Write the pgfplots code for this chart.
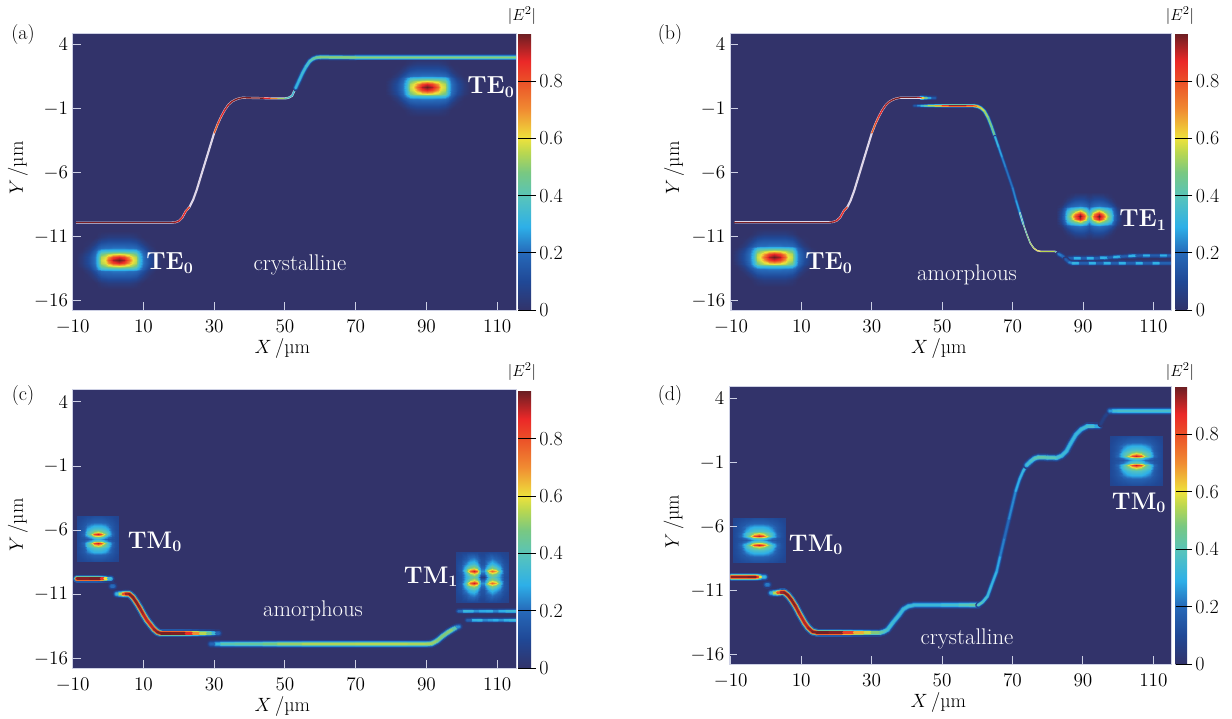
\documentclass[border=0pt]{standalone}
\usepackage{pgfplots}
\pgfplotsset{compat=1.18}
\usepackage{pgfplotstable}
\definecolor{bgc}{RGB}{50,51,106}
\definecolor{tickc}{RGB}{205,208,228}
\definecolor{lavc}{RGB}{222,214,232}
\pgfplotsset{
 colormap={ej}{
  rgb255(0cm)=(50,51,106)
  rgb255(10cm)=(32,72,150)
  rgb255(20cm)=(38,105,185)
  rgb255(29cm)=(45,175,232)
  rgb255(39cm)=(85,195,190)
  rgb255(48cm)=(120,200,130)
  rgb255(55cm)=(185,215,80)
  rgb255(60cm)=(238,226,60)
  rgb255(70cm)=(240,140,50)
  rgb255(80cm)=(235,80,40)
  rgb255(87cm)=(235,40,40)
  rgb255(96.8cm)=(105,30,35)
 },
 panel/.style={
  scale only axis, enlargelimits=false, axis on top,
  tick align=inside, xtick pos=lower, ytick pos=left,
  xtick={-10,10,30,50,70,90,110}, ytick={-16,-11,-6,-1,4},
  major tick length=6pt,
  tick style={color=tickc,line width=.7pt},
  axis line style={tickc,line width=.6pt},
  axis background/.style={fill=bgc},
  colormap name=ej, point meta min=0, point meta max=.968,
  tick label style={font=\fontsize{15}{16}\selectfont},
  xticklabel style={yshift=-4pt},
  label style={font=\fontsize{15}{16}\selectfont},
  xlabel={$X$\,/µm}, ylabel={$Y$\,/µm},
  xlabel style={at={(rel axis cs:.5,0)},anchor=center,yshift=-29pt,xshift=-9pt},
 },
 cb/.style n args={3}{
  colorbar,
  colorbar style={
   at={(parent axis.south east)},anchor=south west,xshift=#1,
   scale only axis,width=#2,height=#3,
   ytick={0,.2,.4,.6,.8},yticklabels={0,0.2,0.4,0.6,0.8},
   ytick pos=right,yticklabel pos=right,tick align=outside,
   major tick length=3.75pt,tick style={black,line width=.5pt},
   ymajorgrids,major grid style={black,line width=.5pt},
   axis on top,axis line style={draw=none},
   tick label style={font=\fontsize{15}{16}\selectfont},
   yticklabel style={xshift=-1pt},
  }},
 wg/.style={mesh,line width=#1,line cap=round,line join=round,no marks},
 ins/.style={surf,shader=interp,mesh/cols=#1,point meta=explicit,no marks},
}
\newcommand\glow[2]{%
 \addplot[wg=1.5pt*#2,point meta={\thisrow{m}*.16}] table[x=x,y=y]{#1};
 \addplot[wg=1.05pt*#2,point meta={\thisrow{m}*.45}] table[x=x,y=y]{#1};
 \addplot[wg=.75pt*#2,point meta={\thisrow{m}*.8}] table[x=x,y=y]{#1};
 \addplot[wg=.45pt*#2,point meta={\thisrow{m}}] table[x=x,y=y]{#1};
}
% table, cols, cx, cy, sx, sy : mode drawn from its upper right quadrant
\newcommand\modeq[6]{%
 \addplot[ins=#2] table[x expr={\thisrow{x}*#5+#3},y expr={\thisrow{y}*#6+#4},meta=m]{#1};
 \addplot[ins=#2] table[x expr={-\thisrow{x}*#5+#3},y expr={\thisrow{y}*#6+#4},meta=m]{#1};
 \addplot[ins=#2] table[x expr={\thisrow{x}*#5+#3},y expr={-\thisrow{y}*#6+#4},meta=m]{#1};
 \addplot[ins=#2] table[x expr={-\thisrow{x}*#5+#3},y expr={-\thisrow{y}*#6+#4},meta=m]{#1};
}
\newcommand\tx[4]{\node[text=#1,font=\fontsize{#2}{#2}\selectfont,inner sep=0pt] at ({#3}) {#4};}
\newcommand\at[2]{#1*.75pt,{(718-#2)*.75pt}}
% mode profiles
\pgfplotstableread{
x y m
0 0 .97
1.5 0 .92
3 0 .76
4 0 .6
5 0 .56
5.8 0 .36
6.8 0 .22
8.5 0 .12
10.5 0 .04
12 0 0
0 .25 .88
1.5 .25 .82
3 .25 .68
4 .25 .58
5 .25 .54
5.8 .25 .35
6.8 .25 .22
8.5 .25 .12
10.5 .25 .04
12 .25 0
0 .5 .6
1.5 .5 .58
3 .5 .55
4 .5 .5
5 .5 .45
5.8 .5 .32
6.8 .5 .2
8.5 .5 .1
10.5 .5 .03
12 .5 0
0 .72 .36
1.5 .72 .36
3 .72 .35
4 .72 .35
5 .72 .33
5.8 .72 .26
6.8 .72 .17
8.5 .72 .07
10.5 .72 .01
12 .72 0
0 .9 .22
1.5 .9 .22
3 .9 .21
4 .9 .21
5 .9 .2
5.8 .9 .17
6.8 .9 .12
8.5 .9 .04
10.5 .9 0
12 .9 0
0 1.3 .14
1.5 1.3 .14
3 1.3 .14
4 1.3 .13
5 1.3 .12
5.8 1.3 .09
6.8 1.3 .05
8.5 1.3 .01
10.5 1.3 0
12 1.3 0
0 1.8 .05
1.5 1.8 .05
3 1.8 .05
4 1.8 .04
5 1.8 .03
5.8 1.8 .015
6.8 1.8 0
8.5 1.8 0
10.5 1.8 0
12 1.8 0
0 2.3 0
1.5 2.3 0
3 2.3 0
4 2.3 0
5 2.3 0
5.8 2.3 0
6.8 2.3 0
8.5 2.3 0
10.5 2.3 0
12 2.3 0
}\TEzero
\pgfplotstableread{
x y m
0 0 .45
.7 0 .55
1.4 0 .8
2.7 0 .97
4 0 .8
5.2 0 .55
6.2 0 .38
7 0 .2
8 0 .1
9.5 0 0
0 .2 .38
.7 .2 .48
1.4 .2 .72
2.7 .2 .9
4 .2 .72
5.2 .2 .5
6.2 .2 .36
7 .2 .19
8 .2 .1
9.5 .2 0
0 .4 .3
.7 .4 .38
1.4 .4 .5
2.7 .4 .65
4 .4 .52
5.2 .4 .42
6.2 .4 .32
7 .4 .17
8 .4 .08
9.5 .4 0
0 .6 .2
.7 .6 .27
1.4 .6 .33
2.7 .6 .38
4 .6 .34
5.2 .6 .3
6.2 .6 .24
7 .6 .14
8 .6 .05
9.5 .6 0
0 .8 .14
.7 .8 .17
1.4 .8 .2
2.7 .8 .22
4 .8 .2
5.2 .8 .18
6.2 .8 .14
7 .8 .08
8 .8 .02
9.5 .8 0
0 1.1 .1
.7 1.1 .12
1.4 1.1 .14
2.7 1.1 .15
4 1.1 .14
5.2 1.1 .11
6.2 1.1 .06
7 1.1 .02
8 1.1 0
9.5 1.1 0
0 1.5 .04
.7 1.5 .05
1.4 1.5 .07
2.7 1.5 .07
4 1.5 .06
5.2 1.5 .03
6.2 1.5 .01
7 1.5 0
8 1.5 0
9.5 1.5 0
0 1.9 0
.7 1.9 0
1.4 1.9 0
2.7 1.9 0
4 1.9 0
5.2 1.9 0
6.2 1.9 0
7 1.9 0
8 1.9 0
9.5 1.9 0
}\TEone
\pgfplotstableread{
x y m
0 0 .32
1 0 .28
2 0 .2
3 0 .15
4 0 .13
5 0 .12
5.9 0 .1
0 .15 .45
1 .15 .42
2 .15 .3
3 .15 .22
4 .15 .15
5 .15 .12
5.9 .15 .1
0 .35 .9
1 .35 .8
2 .35 .52
3 .35 .36
4 .35 .2
5 .35 .13
5.9 .35 .1
0 .55 .58
1 .55 .52
2 .55 .42
3 .55 .35
4 .55 .18
5 .55 .13
5.9 .55 .1
0 .75 .38
1 .75 .37
2 .75 .34
3 .75 .28
4 .75 .16
5 .75 .12
5.9 .75 .1
0 1 .3
1 1 .3
2 1 .27
3 1 .22
4 1 .15
5 1 .12
5.9 1 .1
0 1.3 .18
1 1.3 .18
2 1.3 .17
3 1.3 .15
4 1.3 .13
5 1.3 .11
5.9 1.3 .09
0 1.75 .12
1 1.75 .12
2 1.75 .11
3 1.75 .11
4 1.75 .1
5 1.75 .09
5.9 1.75 .08
}\TMzero
\pgfplotstableread{
x y m
-7.5 0 .1
-6 0 .13
-4.5 0 .3
-3.5 0 .4
-2.5 0 .45
-1.5 0 .38
-.4 0 .05
.4 0 .05
1.8 0 .35
2.8 0 .42
3.8 0 .36
5 0 .25
6.2 0 .12
7.5 0 .1
-7.5 .2 .1
-6 .2 .14
-4.5 .2 .32
-3.5 .2 .5
-2.5 .2 .58
-1.5 .2 .5
-.4 .2 .18
.4 .2 .18
1.8 .2 .45
2.8 .2 .52
3.8 .2 .45
5 .2 .28
6.2 .2 .13
7.5 .2 .1
-7.5 .48 .1
-6 .48 .16
-4.5 .48 .42
-3.5 .48 .76
-2.5 .48 .9
-1.5 .48 .76
-.4 .48 .25
.4 .48 .25
1.8 .48 .66
2.8 .48 .76
3.8 .48 .66
5 .48 .38
6.2 .48 .14
7.5 .48 .1
-7.5 .7 .1
-6 .7 .15
-4.5 .7 .35
-3.5 .7 .5
-2.5 .7 .55
-1.5 .7 .48
-.4 .7 .2
.4 .7 .2
1.8 .7 .42
2.8 .7 .5
3.8 .7 .42
5 .7 .3
6.2 .7 .14
7.5 .7 .1
-7.5 1 .1
-6 1 .13
-4.5 1 .24
-3.5 1 .33
-2.5 1 .36
-1.5 1 .3
-.4 1 .14
.4 1 .14
1.8 1 .28
2.8 1 .33
3.8 1 .28
5 1 .22
6.2 1 .13
7.5 1 .1
-7.5 1.4 .09
-6 1.4 .11
-4.5 1.4 .16
-3.5 1.4 .22
-2.5 1.4 .24
-1.5 1.4 .2
-.4 1.4 .12
.4 1.4 .12
1.8 1.4 .18
2.8 1.4 .22
3.8 1.4 .18
5 1.4 .15
6.2 1.4 .11
7.5 1.4 .09
-7.5 1.95 .07
-6 1.95 .08
-4.5 1.95 .09
-3.5 1.95 .1
-2.5 1.95 .1
-1.5 1.95 .1
-.4 1.95 .08
.4 1.95 .08
1.8 1.95 .1
2.8 1.95 .1
3.8 1.95 .1
5 1.95 .09
6.2 1.95 .08
7.5 1.95 .07
}\TMone
% panel a
\pgfplotstableread{
x y m
-9 -9.9 .95
5 -9.9 .96
18 -9.9 .95
19 -9.88 .93
20 -9.78 .9
21 -9.5 .88
22 -9.0 .85
23 -8.7 .8
24 -8.15 .75
25 -7.4 .7
26 -6.5 .7
27 -5.6 .7
28 -4.7 .7
29 -3.8 .7
30 -2.9 .75
31 -2.2 .8
32 -1.6 .85
33 -1.1 .9
34 -.7 .92
35 -.45 .93
36 -.3 .95
37 -.2 .95
38 -.15 .96
44 -.18 .95
46 -.2 .8
48 -.2 .6
50 -.2 .45
51 -.15 .38
52 0 .35
53 .6 .33
54 1.2 .33
}\PAa
\pgfplotstableread{
x y m
53 .6 .3
54 1.2 .33
55 1.8 .33
56 2.3 .35
57 2.7 .38
58 2.9 .42
59 3 .46
60 3.02 .49
70 3 .51
80 3 .5
90 3 .5
100 3 .5
115.5 3 .5
}\PAb
% panel b
\pgfplotstableread{
x y m
-9 -9.88 .95
5 -9.88 .96
18 -9.88 .95
19 -9.85 .93
20 -9.75 .9
21 -9.5 .88
22 -9.0 .85
23 -8.7 .8
24 -8.15 .75
25 -7.4 .7
26 -6.5 .7
27 -5.6 .7
28 -4.7 .7
29 -3.8 .7
30 -2.9 .75
31 -2.2 .8
32 -1.6 .85
33 -1.1 .9
34 -.7 .92
35 -.45 .93
36 -.3 .95
37 -.2 .95
38 -.15 .96
43 -.15 .95
44 -.15 .85
}\PBa
\pgfplotstableread{
x y m
44 -.15 .7
45 -.15 .55
46 -.15 .35
47 -.15 .2
48 -.15 .1
}\PBb
\pgfplotstableread{
x y m
42 -.78 .1
43 -.78 .2
44 -.78 .3
45 -.78 .4
46 -.78 .5
48 -.78 .6
50 -.78 .75
52 -.78 .95
57 -.78 .92
59 -.78 .8
60 -.82 .7
61 -.95 .6
62 -1.2 .55
63 -1.7 .5
64 -2.4 .47
65 -3.2 .45
}\PBc
\pgfplotstableread{
x y m
65 -3.2 .35
66 -4 .3
67 -4.8 .25
68 -5.6 .22
69 -6.4 .2
70 -7.2 .22
71 -8.2 .25
72 -9.1 .3
73 -10 .3
}\PBd
\pgfplotstableread{
x y m
72 -9.1 .4
73 -10 .4
74 -10.8 .45
75 -11.5 .5
76 -11.9 .55
77 -12.1 .6
78 -12.15 .6
82 -12.15 .5
83 -12.3 .3
}\PBe
\pgfplotstableread{
x y m
83 -12.35 .15
84 -12.5 .3
85 -12.69 .1
86 -12.69 .08
87.5 -12.69 .25
88.5 -12.69 .35
89.5 -12.69 .25
90.3 -12.69 .08
91.2 -12.69 .25
92.2 -12.69 .35
93.2 -12.69 .25
94.1 -12.69 .08
95 -12.66 .25
96 -12.66 .35
97 -12.64 .25
97.9 -12.62 .08
98.7 -12.6 .25
99.7 -12.58 .35
100.7 -12.56 .25
101.8 -12.54 .08
103 -12.52 .25
104 -12.5 .35
105 -12.5 .25
106.1 -12.48 .08
107.2 -12.48 .25
108.2 -12.48 .35
109.2 -12.48 .25
110.6 -12.48 .08
112 -12.48 .25
113 -12.48 .35
114 -12.48 .25
115.5 -12.48 .12
}\PBf
\pgfplotstableread{
x y m
85 -12.75 .12
86 -13.0 .2
87 -13.08 .28
88 -13.08 .35
89 -13.08 .25
90.3 -13.08 .08
91.8 -13.08 .25
92.8 -13.08 .35
93.8 -13.08 .25
95 -13.08 .08
96 -13.08 .25
97 -13.08 .35
98 -13.08 .25
99.2 -13.08 .08
100.3 -13.08 .25
101.3 -13.08 .35
102.3 -13.08 .25
103.7 -13.08 .08
105.1 -13.08 .25
106.1 -13.08 .35
107.1 -13.08 .25
108.5 -13.08 .08
109.9 -13.08 .25
110.9 -13.08 .35
111.9 -13.08 .25
113.3 -13.08 .1
115.5 -13.08 .25
}\PBg
% panel c
\pgfplotstableread{
x y m
-8.8 -9.76 .93
-5 -9.76 .96
-2 -9.76 .95
-1 -9.76 .75
0 -9.76 .45
.8 -9.76 .2
}\PCa
\pgfplotstableread{
x y m
1 -10.36 .2
1.6 -10.36 .2
}\PCb
\pgfplotstableread{
x y m
2.4 -10.96 .25
3.2 -10.96 .4
4.2 -10.96 .7
5 -10.94 .9
6 -10.96 .95
7 -11.2 .95
8 -11.6 .95
9 -12.05 .94
10 -12.55 .92
11 -13.0 .9
12 -13.35 .9
13 -13.7 .92
14 -13.93 .95
15 -14.02 .96
18 -14.02 .96
22 -14.02 .95
24 -14.02 .8
26 -14.02 .6
28 -14.02 .5
29.5 -14.02 .42
30.5 -14.02 .25
31.3 -14.02 .12
}\PCc
\pgfplotstableread{
x y m
29 -14.85 .12
30.5 -14.85 .25
32 -14.85 .38
36 -14.85 .44
40 -14.85 .42
44 -14.85 .45
48 -14.85 .5
55 -14.85 .53
70 -14.85 .55
85 -14.85 .54
90 -14.85 .53
91.5 -14.82 .52
93 -14.6 .5
94.5 -14.25 .48
96 -13.95 .5
97.5 -13.7 .5
98.6 -13.55 .35
99.2 -13.5 .15
}\PCd
\pgfplotstableread{
x y m
99 -12.3 .12
100.5 -12.3 .3
102 -12.3 .35
103.5 -12.3 .28
105 -12.3 .22
107 -12.3 .35
109 -12.3 .25
110.5 -12.3 .22
112.5 -12.3 .36
115.5 -12.3 .3
}\PCe
\pgfplotstableread{
x y m
101.5 -13 .1
103 -13 .25
104.5 -13 .35
106 -13 .28
107.5 -13 .2
109 -13 .33
110.5 -13 .25
112 -13 .25
113.5 -13 .35
115.5 -13 .3
}\PCf
% panel d
\pgfplotstableread{
x y m
-9.8 -9.93 .93
-5 -9.93 .96
-2.5 -9.93 .95
-1.8 -9.93 .75
-1 -9.93 .45
-.3 -9.93 .2
}\PDa
\pgfplotstableread{
x y m
.1 -10.53 .22
.7 -10.53 .22
}\PDb
\pgfplotstableread{
x y m
1.4 -11.16 .25
2.2 -11.16 .4
3.2 -11.16 .7
4.2 -11.14 .9
5.2 -11.14 .95
6.2 -11.35 .95
7.2 -11.7 .95
8.4 -12.22 .94
9.5 -12.8 .92
11 -13.52 .9
12 -13.9 .92
13.2 -14.2 .95
14.5 -14.28 .96
18 -14.28 .96
22 -14.28 .93
25 -14.28 .72
28 -14.28 .6
30 -14.28 .53
32.4 -14.28 .45
33.5 -14.2 .4
34.5 -14.05 .36
36 -13.5 .34
37.8 -12.9 .33
39 -12.45 .33
40.4 -12.22 .33
42 -12.14 .33
50 -12.14 .33
55 -12.14 .38
58 -12.14 .42
60.2 -12.14 .45
}\PDc
\pgfplotstableread{
x y m
60.2 -12.14 .42
61.5 -11.9 .38
62.9 -11.44 .34
64 -10.6 .32
65.5 -9.5 .3
66.5 -8.3 .26
67.7 -6.9 .2
69 -5.4 .2
70.9 -3.23 .28
72 -2.3 .3
73 -1.67 .32
74 -1.2 .34
}\PDf
\pgfplotstableread{
x y m
74 -1.2 .34
75.2 -.89 .35
76.2 -.68 .38
77.3 -.58 .42
80 -.6 .42
82.6 -.62 .38
84 -.45 .34
85.3 -.11 .32
86.5 .5 .32
88 1.19 .32
89.5 1.6 .33
91.2 1.84 .35
93.5 1.84 .36
94.6 1.84 .2
}\PDg
\pgfplotstableread{
x y m
95 2 .06
96.2 2.6 .06
97.4 3.0 .08
}\PDd
\pgfplotstableread{
x y m
97.6 3.06 .2
98.6 3.06 .33
100 3.06 .36
115.5 3.06 .36
}\PDe
\begin{document}
\begin{tikzpicture}
\path[use as bounding box] (0,0) rectangle (924pt,538.5pt);
% (a)
\begin{axis}[panel,at={(54.5pt,306pt)},anchor=south west,width=332.5pt,height=207.75pt,
 xmin=-10,xmax=115.3,ymin=-16.73,ymax=4.91,
 ylabel style={at={(rel axis cs:0,.5)},anchor=center,yshift=41pt,xshift=2.5pt},
 cb={-6.75pt}{9.5pt}{207.75pt}]
\modeq{\TEzero}{10}{3}{-12.82}{1}{1}
\modeq{\TEzero}{10}{90.2}{.67}{1}{1}
\addplot[lavc,line width=1.6pt,no marks,line join=round] table[x=x,y=y]{\PAa};
\addplot[wg=1pt,point meta=\thisrow{m},restrict x to domain=-9:23] table[x=x,y=y]{\PAa};
\addplot[wg=1pt,point meta=\thisrow{m},restrict x to domain=30:54] table[x=x,y=y]{\PAa};
\glow{\PAb}{3}
\end{axis}
% (b)
\begin{axis}[panel,at={(547.5pt,306pt)},anchor=south west,width=331.3pt,height=207.75pt,
 xmin=-10.3,xmax=115.2,ymin=-16.73,ymax=4.91,
 ylabel style={at={(rel axis cs:0,.5)},anchor=center,yshift=42pt,xshift=2.5pt},
 cb={-5.75pt}{9pt}{207.75pt}]
\modeq{\TEzero}{10}{2.3}{-12.6}{1}{1}
\modeq{\TEone}{10}{91.7}{-9.4}{1}{1}
\glow{\PBb}{2.5}
\addplot[lavc,line width=1.6pt,no marks,line join=round] table[x=x,y=y]{\PBa};
\addplot[wg=1pt,point meta=\thisrow{m},restrict x to domain=-9:23] table[x=x,y=y]{\PBa};
\addplot[wg=1pt,point meta=\thisrow{m},restrict x to domain=30:44] table[x=x,y=y]{\PBa};
\glow{\PBc}{2.2}
\glow{\PBd}{2}
\addplot[lavc,line width=1.1pt,no marks,line join=round] table[x=x,y=y]{\PBe};
\addplot[wg=.6pt,point meta=\thisrow{m}] table[x=x,y=y]{\PBe};
\glow{\PBf}{2.8}
\glow{\PBg}{2.8}
\end{axis}
% (c)
\begin{axis}[panel,at={(54.5pt,37.5pt)},anchor=south west,width=332.5pt,height=209.25pt,
 xmin=-10,xmax=115.3,ymin=-16.72,ymax=5.01,
 ylabel style={at={(rel axis cs:0,.5)},anchor=center,yshift=41pt,xshift=2.5pt},
 cb={-6.75pt}{9.5pt}{208pt}]
\modeq{\TMzero}{7}{-2.9}{-6.65}{1}{1}
\addplot[ins=14] table[x expr={\thisrow{x}+105.8},y expr={\thisrow{y}-9.63},meta=m]{\TMone};
\addplot[ins=14] table[x expr={\thisrow{x}+105.8},y expr={-\thisrow{y}-9.63},meta=m]{\TMone};
\glow{\PCa}{4}
\glow{\PCb}{4}
\glow{\PCc}{4}
\glow{\PCd}{4}
\glow{\PCe}{3.2}
\glow{\PCf}{3.2}
\end{axis}
% (d)
\begin{axis}[panel,at={(546.75pt,40.5pt)},anchor=south west,width=332pt,height=208.5pt,
 xmin=-10.5,xmax=115.2,ymin=-16.73,ymax=4.99,
 ylabel style={at={(rel axis cs:0,.5)},anchor=center,yshift=41.5pt,xshift=2.5pt},
 cb={-5.5pt}{8.5pt}{208.5pt}]
\modeq{\TMzero}{7}{-2}{-7.05}{1.27}{1}
\modeq{\TMzero}{7}{105.1}{-.83}{1.27}{1.1}
\glow{\PDa}{4}
\glow{\PDb}{4}
\glow{\PDc}{4}
\glow{\PDf}{2.8}
\glow{\PDg}{4}
\glow{\PDd}{3}
\glow{\PDe}{4}
\end{axis}
% panel marks and colour bar titles
\tx{black}{15}{\at{23}{35}}{(a)}
\tx{black}{15}{\at{670}{35}}{(b)}
\tx{black}{15}{\at{23}{396}}{(c)}
\tx{black}{15}{\at{670}{396}}{(d)}
\tx{black}{13}{\at{522}{16}}{$|E^2|$}
\tx{black}{13}{\at{1180}{16}}{$|E^2|$}
\tx{black}{13}{\at{522}{372}}{$|E^2|$}
\tx{black}{13}{\at{1180}{372}}{$|E^2|$}
% annotations
\tx{white}{18.5}{\at{170}{263}}{\bfseries TE$_{\mathbf 0}$}
\tx{white}{18.5}{\at{491}{87}}{\bfseries TE$_{\mathbf 0}$}
\tx{white}{17}{\at{300}{265}}{crystalline}
\tx{white}{18.5}{\at{829}{263}}{\bfseries TE$_{\mathbf 0}$}
\tx{white}{18.5}{\at{1143}{220}}{\bfseries TE$_{\mathbf 1}$}
\tx{white}{17}{\at{967}{275}}{amorphous}
\tx{white}{18}{\at{155}{542}}{\bfseries TM$_{\mathbf 0}$}
\tx{white}{18}{\at{431}{577}}{\bfseries TM$_{\mathbf 1}$}
\tx{white}{17}{\at{313}{611}}{amorphous}
\tx{white}{18}{\at{816}{545}}{\bfseries TM$_{\mathbf 0}$}
\tx{white}{18}{\at{1139}{503}}{\bfseries TM$_{\mathbf 0}$}
\tx{white}{17}{\at{967}{639}}{crystalline}
\end{tikzpicture}
\end{document}
